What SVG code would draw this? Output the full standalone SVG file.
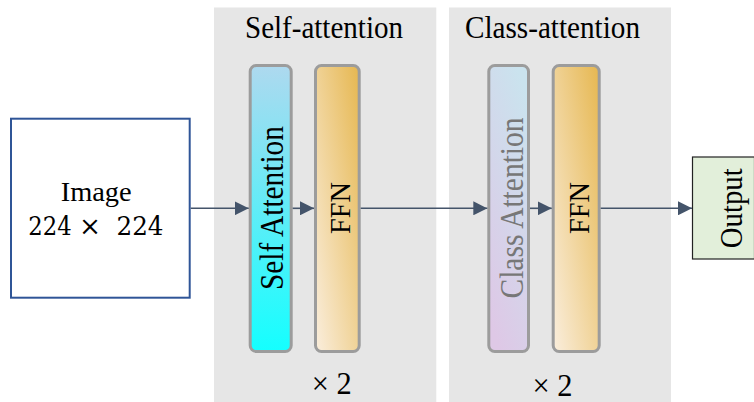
<svg xmlns="http://www.w3.org/2000/svg" width="754" height="402" viewBox="0 0 754 402">
  <defs>
    <linearGradient id="gSA" x1="0" y1="0" x2="0" y2="1">
      <stop offset="0" stop-color="#AED9EF"/>
      <stop offset="1" stop-color="#14FFFF"/>
    </linearGradient>
    <linearGradient id="gFFN" x1="1" y1="0" x2="0" y2="1">
      <stop offset="0" stop-color="#E6B750"/>
      <stop offset="1" stop-color="#FAEEDD"/>
    </linearGradient>
    <linearGradient id="gCA" x1="0.7" y1="0" x2="0.3" y2="1">
      <stop offset="0" stop-color="#CAE3EE"/>
      <stop offset="1" stop-color="#DEC8E6"/>
    </linearGradient>
    <marker id="arr" viewBox="0 0 14 14" refX="14" refY="7" markerWidth="14" markerHeight="14" markerUnits="userSpaceOnUse" orient="auto">
      <path d="M0,0 L14,7 L0,14 Z" fill="#44546A"/>
    </marker>
    <style>
      .panel { fill: #E6E6E6; }
      .bar { stroke: #9C9C9C; stroke-width: 3; }
      .t { font-family: "Liberation Serif", "Times New Roman", serif; fill: #000; }
      .m { font-family: "DejaVu Serif", "Liberation Serif", serif; fill: #000; }
      .conn { stroke: #44546A; stroke-width: 1.6; fill: none; marker-end: url(#arr); }
    </style>
  </defs>

  <g id="panel-self">
    <rect class="panel" x="214" y="7.5" width="222.3" height="400"/>
    <text class="t" x="324" y="38" font-size="31" text-anchor="middle" textLength="158" lengthAdjust="spacingAndGlyphs">Self-attention</text>
    <text class="t" x="331.7" y="394" font-size="32" text-anchor="middle" textLength="40" lengthAdjust="spacingAndGlyphs">× 2</text>
  </g>
  <g id="panel-class">
    <rect class="panel" x="449" y="7.5" width="222" height="400"/>
    <text class="t" x="552.5" y="38" font-size="31" text-anchor="middle" textLength="175" lengthAdjust="spacingAndGlyphs">Class-attention</text>
    <text class="t" x="552.5" y="396" font-size="31" text-anchor="middle" textLength="40" lengthAdjust="spacingAndGlyphs">× 2</text>
  </g>

  <g id="image">
    <rect x="11" y="118.7" width="178.7" height="179" fill="#FFFFFF" stroke="#2F5597" stroke-width="2"/>
    <text class="t" x="96.2" y="200.7" font-size="27" text-anchor="middle" textLength="71" lengthAdjust="spacingAndGlyphs">Image</text>
    <text class="m" y="235.3" font-size="26"><tspan x="28.3" textLength="43.4" lengthAdjust="spacingAndGlyphs">224</tspan> <tspan x="79" textLength="22" lengthAdjust="spacingAndGlyphs">×</tspan> <tspan x="116.5" textLength="47" lengthAdjust="spacingAndGlyphs">224</tspan></text>
  </g>

  <g id="self-attention">
    <rect class="bar" x="250.2" y="65.5" width="41" height="286" rx="6" fill="url(#gSA)"/>
    <text class="t" transform="translate(283.3,208) rotate(-90)" x="0" y="0" font-size="33" text-anchor="middle" textLength="164" lengthAdjust="spacingAndGlyphs">Self Attention</text>
  </g>
  <g id="ffn1">
    <rect class="bar" x="315.5" y="65.5" width="43.7" height="286" rx="6" fill="url(#gFFN)"/>
    <text class="t" transform="translate(350,208) rotate(-90)" x="0" y="0" font-size="29" text-anchor="middle" textLength="52" lengthAdjust="spacingAndGlyphs">FFN</text>
  </g>
  <g id="class-attention">
    <rect class="bar" x="488.8" y="65.5" width="39.7" height="286" rx="6" fill="url(#gCA)"/>
    <text class="t" transform="translate(522.7,208) rotate(-90)" x="0" y="0" font-size="33" style="fill:#777777" text-anchor="middle" textLength="181" lengthAdjust="spacingAndGlyphs">Class Attention</text>
  </g>
  <g id="ffn2">
    <rect class="bar" x="553.2" y="65.5" width="46" height="286" rx="6" fill="url(#gFFN)"/>
    <text class="t" transform="translate(588.7,208) rotate(-90)" x="0" y="0" font-size="29" text-anchor="middle" textLength="52" lengthAdjust="spacingAndGlyphs">FFN</text>
  </g>
  <g id="output">
    <rect x="692.5" y="157" width="62" height="102" fill="#E2EFDA" stroke="#222222" stroke-width="1.2"/>
    <text class="t" transform="translate(741.5,208.3) rotate(-90)" x="0" y="0" font-size="31" text-anchor="middle" textLength="80" lengthAdjust="spacingAndGlyphs">Output</text>
  </g>

  <g id="connectors">
    <line class="conn" x1="190.7" y1="208.3" x2="248.7" y2="208.3"/>
    <line class="conn" x1="292.7" y1="208.3" x2="314" y2="208.3"/>
    <line class="conn" x1="360.7" y1="208.3" x2="487.3" y2="208.3"/>
    <line class="conn" x1="530" y1="208.3" x2="551.7" y2="208.3"/>
    <line class="conn" x1="600.7" y1="208.3" x2="692" y2="208.3"/>
  </g>
</svg>
